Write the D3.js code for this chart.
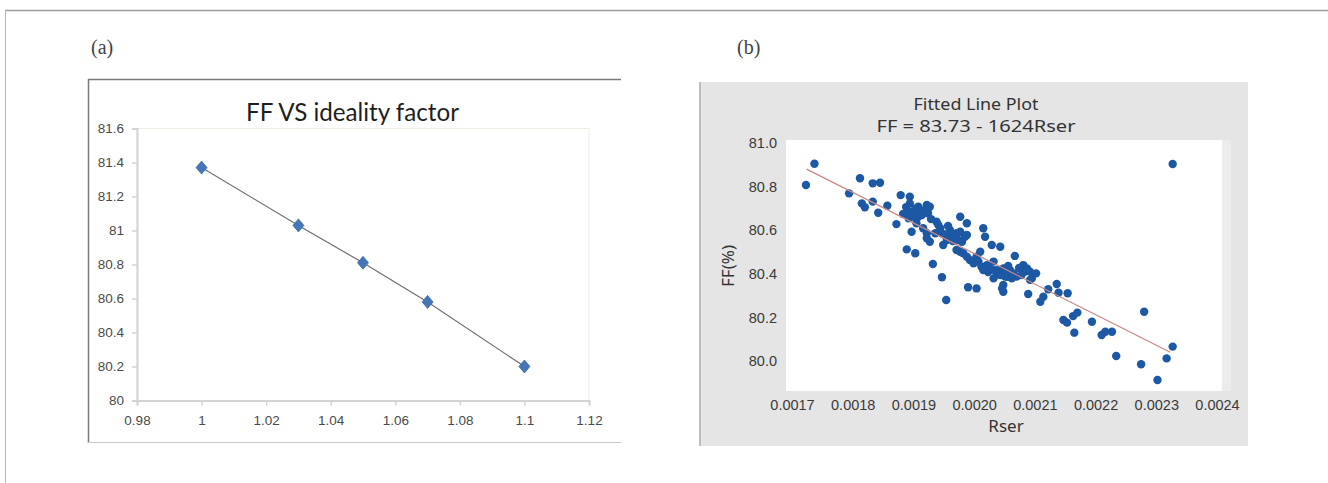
<!DOCTYPE html>
<html><head><meta charset="utf-8">
<script src="https://cdn.jsdelivr.net/npm/d3@7"></script>
<style>html,body{margin:0;padding:0;background:#fff;}svg{display:block;}</style>
</head><body>
<svg id="c" width="1328" height="483"></svg>
<script>
// ---- Panel (a) data ----
const aIdeality = [1, 1.03, 1.05, 1.07, 1.1];
const aFF = [81.37, 81.03, 80.81, 80.58, 80.2];
const aXTicks = [0.98, 1, 1.02, 1.04, 1.06, 1.08, 1.1, 1.12];
const aXLabels = ["0.98", "1", "1.02", "1.04", "1.06", "1.08", "1.1", "1.12"];
const aYTicks = [80, 80.2, 80.4, 80.6, 80.8, 81, 81.2, 81.4, 81.6];
const aYLabels = ["80", "80.2", "80.4", "80.6", "80.8", "81", "81.2", "81.4", "81.6"];
const aTitle = "FF VS ideality factor";

// ---- Panel (b) data ----
const bRser = [0.001723,0.001737,0.001812,0.001833,0.001845,0.001794,0.001815,0.001820,0.001833,0.001842,
0.001857,0.001872,0.001879,0.001894,0.001894,0.001894,0.001903,0.001908,0.001914,0.001892,
0.001900,0.001908,0.001914,0.001922,0.001927,0.001924,0.001905,0.001897,0.001916,0.001922,
0.001922,0.001927,0.001938,0.001941,0.001944,0.001936,0.001947,0.001952,0.001955,0.001949,
0.001960,0.001963,0.001968,0.001971,0.001977,0.001974,0.001980,0.001985,0.001988,0.001977,
0.001988,0.001971,0.001977,0.001982,0.001988,0.001993,0.001999,0.002004,0.002007,0.002010,
0.002012,0.002015,0.002021,0.002026,0.002032,0.002034,0.002037,0.002043,0.002048,0.002054,
0.002056,0.002015,0.002018,0.002029,0.002043,0.001889,0.001903,0.001932,0.001947,0.001990,
0.002004,0.001954,0.002048,0.002048,0.002054,0.002032,0.002040,0.002051,0.002059,0.002065,
0.002070,0.002062,0.002043,0.002081,0.002084,0.002092,0.002095,0.002092,0.002078,0.002046,
0.002067,0.002089,0.002122,0.002136,0.002139,0.002154,0.002114,0.002109,0.002147,0.002153,
0.002163,0.002170,0.002165,0.002194,0.002210,0.002216,0.002227,0.002280,0.002234,0.002275,
0.002302,0.002317,0.002327,0.002327,0.002102,0.002087,0.001919,0.001903,0.002023,0.002074,
0.002056,0.001957,0.001965,0.001929,0.001888,0.001883];
const bFF = [80.807,80.905,80.838,80.815,80.818,80.769,80.723,80.705,80.731,80.680,
80.712,80.628,80.761,80.754,80.723,80.685,80.700,80.708,80.685,80.655,
80.662,80.662,80.670,80.716,80.708,80.678,80.632,80.593,80.609,80.586,
80.563,80.547,80.639,80.624,80.609,80.586,80.586,80.578,80.555,80.532,
80.601,80.578,80.570,80.586,80.593,80.555,80.547,80.570,80.578,80.662,
80.632,80.509,80.501,80.494,80.478,80.463,80.448,80.478,80.456,80.501,
80.433,80.417,80.440,80.425,80.456,80.417,80.402,80.410,80.425,80.402,
80.387,80.609,80.570,80.532,80.524,80.512,80.494,80.445,80.384,80.338,
80.333,80.280,80.349,80.318,80.387,80.379,80.417,80.387,80.417,80.402,
80.387,80.379,80.394,80.440,80.410,80.410,80.379,80.372,80.394,80.333,
80.482,80.307,80.329,80.353,80.313,80.311,80.295,80.272,80.188,80.176,
80.206,80.222,80.130,80.180,80.119,80.134,80.134,80.226,80.023,79.985,
79.913,80.012,80.066,80.904,80.402,80.425,80.693,80.678,80.408,80.427,
80.436,80.619,80.550,80.651,80.706,80.674];
const bFitRser = [0.001724, 0.002323];
const bFitFF = [80.88, 80.04];
const bXTicks = [0.0017, 0.0018, 0.0019, 0.0020, 0.0021, 0.0022, 0.0023, 0.0024];
const bXLabels = ["0.0017", "0.0018", "0.0019", "0.0020", "0.0021", "0.0022", "0.0023", "0.0024"];
const bYTicks = [80.0, 80.2, 80.4, 80.6, 80.8, 81.0];
const bYLabels = ["80.0", "80.2", "80.4", "80.6", "80.8", "81.0"];
const bTitle1 = "Fitted Line Plot";
const bTitle2 = "FF = 83.73 - 1624Rser";
const bXName = "Rser";
const bYName = "FF(%)";

const svg = d3.select("#c");

// outer frame
svg.append("line").attr("x1", 5).attr("x2", 1328).attr("y1", 10.5).attr("y2", 10.5)
  .attr("stroke", "#9a9a9a").attr("stroke-width", 1.5);
svg.append("line").attr("x1", 5.5).attr("x2", 5.5).attr("y1", 10).attr("y2", 483)
  .attr("stroke", "#b5b5b5").attr("stroke-width", 1);

// panel labels
svg.append("text").attr("x", 91).attr("y", 54).text("(a)")
  .attr("font-family", "Liberation Serif, serif").attr("font-size", 20).attr("fill", "#444");
svg.append("text").attr("x", 737).attr("y", 54).text("(b)")
  .attr("font-family", "Liberation Serif, serif").attr("font-size", 20).attr("fill", "#444");

// ================= Panel (a) =================
const gA = svg.append("g");
gA.append("line").attr("x1", 88).attr("x2", 621).attr("y1", 79.5).attr("y2", 79.5).attr("stroke", "#7a7a7a").attr("stroke-width", 1.5);
gA.append("line").attr("x1", 88.5).attr("x2", 88.5).attr("y1", 79).attr("y2", 443).attr("stroke", "#7a7a7a").attr("stroke-width", 1.5);
gA.append("line").attr("x1", 88).attr("x2", 621).attr("y1", 442.5).attr("y2", 442.5).attr("stroke", "#c8c8c8").attr("stroke-width", 1);

const xA = d3.scaleLinear().domain([0.98, 1.12]).range([137, 589]);
const yA = d3.scaleLinear().domain([80, 81.6]).range([400.5, 128.5]);

gA.append("rect").attr("x", xA(0.98)).attr("y", yA(81.6)).attr("width", xA(1.12) - xA(0.98)).attr("height", yA(80) - yA(81.6))
  .attr("fill", "none").attr("stroke", "#efece3").attr("stroke-width", 1);

const fontA = "Liberation Sans Narrow, Liberation Sans, Arial, sans-serif";
const axA = gA.append("g").attr("transform", `translate(0,${yA(80)})`)
  .call(d3.axisBottom(xA).tickValues(aXTicks).tickFormat((d, i) => aXLabels[i]).tickSize(5).tickPadding(10));
const ayA = gA.append("g").attr("transform", `translate(${xA(0.98)},0)`)
  .call(d3.axisLeft(yA).tickValues(aYTicks).tickFormat((d, i) => aYLabels[i]).tickSize(5).tickPadding(8));
[axA, ayA].forEach(g => {
  g.select(".domain").attr("stroke", "#d3d3d3").attr("stroke-width", 2);
  g.selectAll(".tick line").attr("stroke", "#d3d3d3").attr("stroke-width", 1.5);
  g.selectAll(".tick text").attr("fill", "#4a4a4a").attr("font-family", fontA).attr("font-size", 13.5);
});

gA.append("text").attr("x", 246).attr("y", 121).text(aTitle)
  .attr("font-family", "Lato, Open Sans, sans-serif").attr("font-size", 25).attr("fill", "#1e1e1e")
  .attr("textLength", 213).attr("lengthAdjust", "spacingAndGlyphs");

const ptsA = aIdeality.map((x, i) => [x, aFF[i]]);
gA.append("path").datum(ptsA)
  .attr("d", d3.line().x(d => xA(d[0])).y(d => yA(d[1])))
  .attr("fill", "none").attr("stroke", "#6f6f6f").attr("stroke-width", 1.2);
gA.selectAll(".dia").data(ptsA).join("path")
  .attr("transform", d => `translate(${xA(d[0])},${yA(d[1])})`)
  .attr("d", "M0,-6.5L5.5,0L0,6.5L-5.5,0Z")
  .attr("fill", "#4577b8").attr("stroke", "#3d6aa6").attr("stroke-width", 0.8);

// ================= Panel (b) =================
const gB = svg.append("g");
gB.append("rect").attr("x", 699).attr("y", 82).attr("width", 549).attr("height", 364).attr("fill", "#e5e5e5");
gB.append("line").attr("x1", 700).attr("x2", 700).attr("y1", 82).attr("y2", 446).attr("stroke", "#bdbdbd").attr("stroke-width", 2);

const xB = d3.scaleLinear().domain([0.0017, 0.0024]).range([792, 1217]);
const yB = d3.scaleLinear().domain([80.0, 81.0]).range([361, 143]);

gB.append("rect").attr("x", 1222).attr("y", 140).attr("width", 9).attr("height", 251).attr("fill", "#ececec");
gB.append("rect").attr("x", 786).attr("y", 140).attr("width", 436).attr("height", 251).attr("fill", "#ffffff");

const fontB = "Noto Sans, Open Sans, Arial, sans-serif";
gB.append("text").attr("x", 976).attr("y", 110).attr("text-anchor", "middle").text(bTitle1)
  .attr("font-family", fontB).attr("font-size", 16).attr("fill", "#333")
  .attr("textLength", 125).attr("lengthAdjust", "spacingAndGlyphs");
gB.append("text").attr("x", 976).attr("y", 132).attr("text-anchor", "middle").text(bTitle2)
  .attr("font-family", fontB).attr("font-size", 17).attr("fill", "#333")
  .attr("textLength", 199).attr("lengthAdjust", "spacingAndGlyphs");

const fontBT = "Liberation Sans, Arial, sans-serif";
const axB = gB.append("g").attr("transform", "translate(0,391)")
  .call(d3.axisBottom(xB).tickValues(bXTicks).tickFormat((d, i) => bXLabels[i]).tickSize(0).tickPadding(9));
const ayB = gB.append("g").attr("transform", "translate(786,0)")
  .call(d3.axisLeft(yB).tickValues(bYTicks).tickFormat((d, i) => bYLabels[i]).tickSize(0).tickPadding(9));
[axB, ayB].forEach(g => {
  g.select(".domain").remove();
  g.selectAll(".tick text").attr("fill", "#3a3a3a").attr("font-family", fontBT).attr("font-size", 14.5);
});

gB.append("text").attr("x", 1006).attr("y", 432).attr("text-anchor", "middle").text(bXName)
  .attr("font-family", fontB).attr("font-size", 17).attr("fill", "#333");
gB.append("text").attr("transform", "translate(734,266) rotate(-90)").attr("text-anchor", "middle").text(bYName)
  .attr("font-family", fontB).attr("font-size", 17).attr("fill", "#333");

const ptsB = bRser.map((r, i) => [r, bFF[i]]);
gB.selectAll(".pt").data(ptsB).join("circle")
  .attr("cx", d => xB(d[0])).attr("cy", d => yB(d[1])).attr("r", 4.2)
  .attr("fill", "#1c58a4");

const fit = bFitRser.map((r, i) => [r, bFitFF[i]]);
gB.append("path").datum(fit)
  .attr("d", d3.line().x(d => xB(d[0])).y(d => yB(d[1])))
  .attr("fill", "none").attr("stroke", "#c98a86").attr("stroke-width", 1.3);
</script>
</body></html>
